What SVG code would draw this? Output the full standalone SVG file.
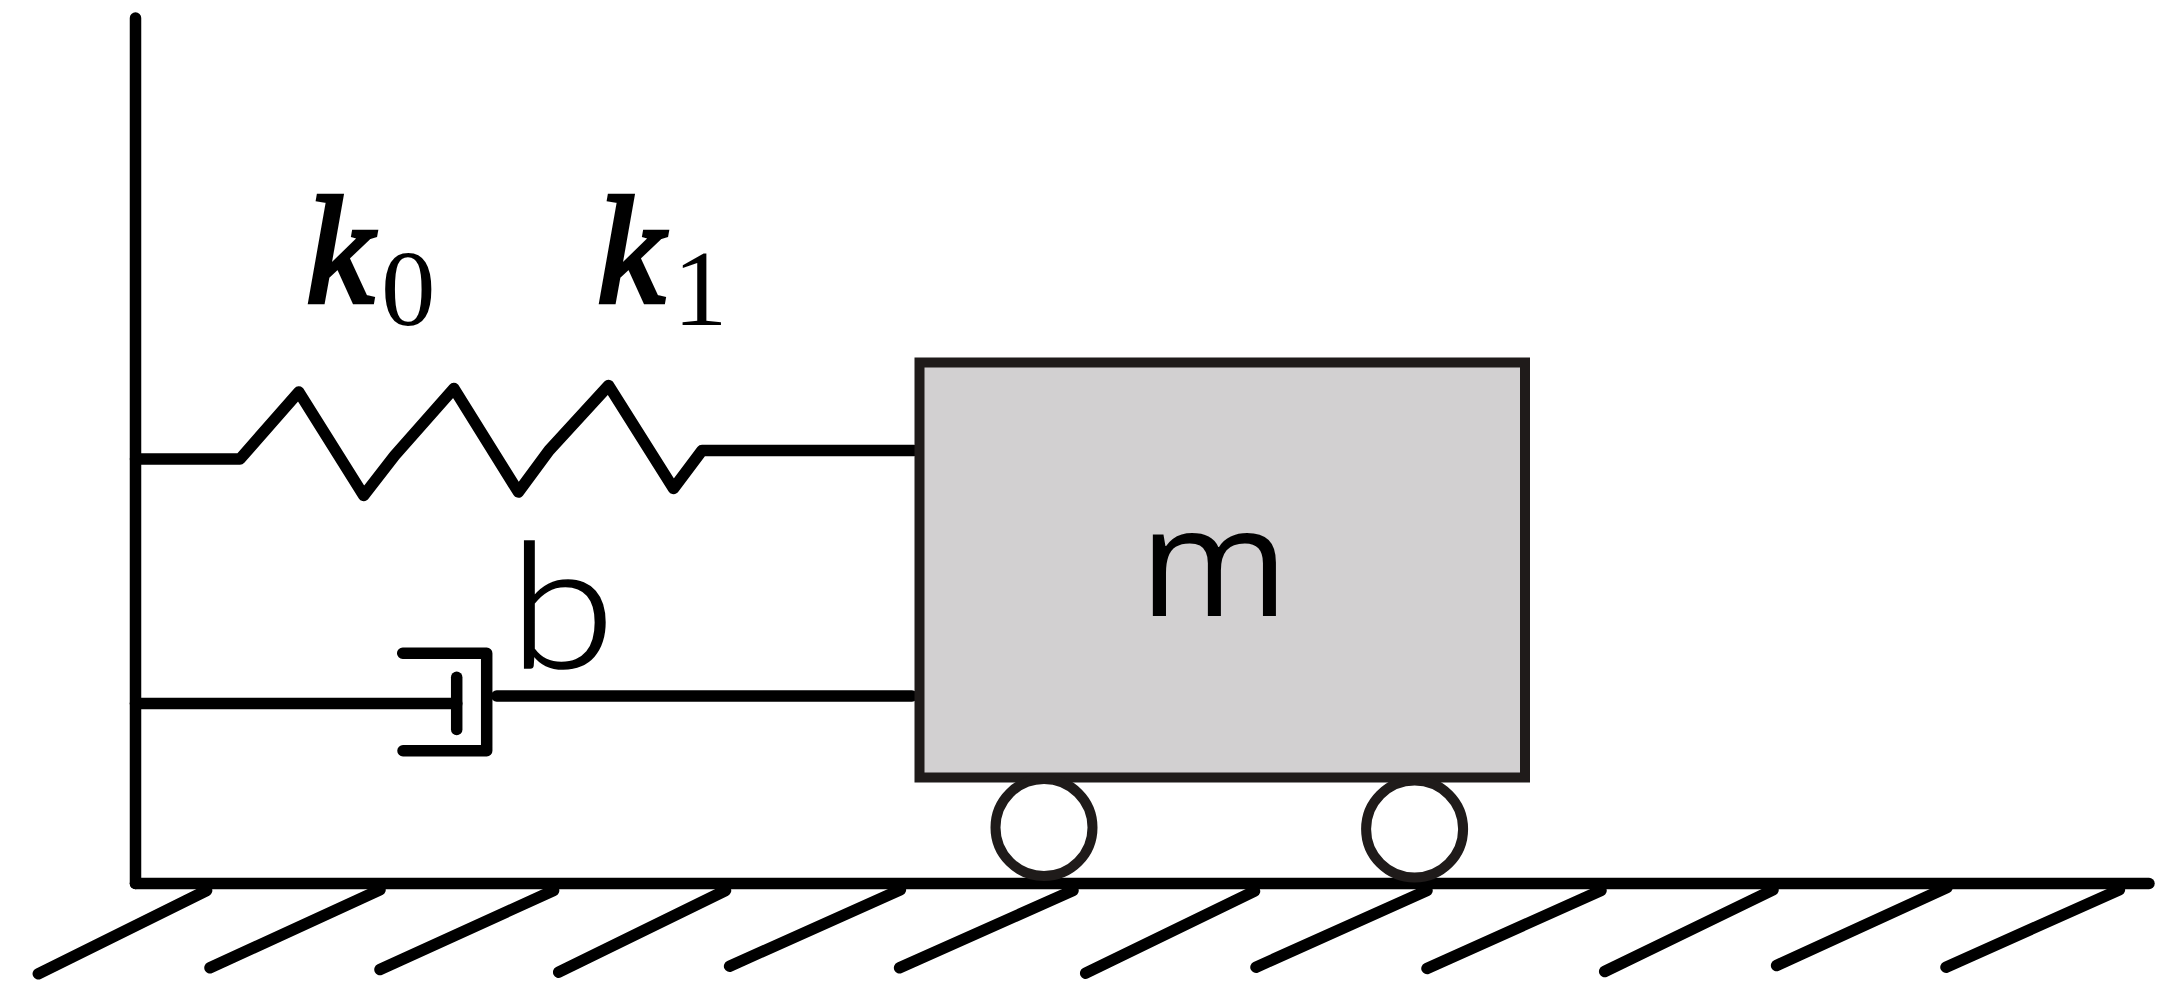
<svg xmlns="http://www.w3.org/2000/svg" width="2173" height="1000" viewBox="0 0 2173 1000">
<style>
.ln{fill:none;stroke:#000;stroke-width:11.5;stroke-linecap:round;stroke-linejoin:round}
.k{font-family:"Liberation Serif",serif;font-style:italic;font-weight:400;font-size:152px;fill:#000;stroke:#000;stroke-width:4.5}
.s{font-family:"Liberation Serif",serif;font-style:normal;font-weight:400;font-size:109px;stroke:none}
.m{font-family:"Open Sans",sans-serif;font-weight:400;fill:#000}
.b{font-family:"Lato",sans-serif;font-weight:300;fill:#000;stroke:#000;stroke-width:1.5}
</style>
<rect width="2173" height="1000" fill="#fff"/>
<g id="connectors">
<path id="spring" class="ln" d="M135.5 459H240L298.8 392L363.7 495.5L394.7 455.5L453.9 388.5L518.4 492L549 450.5L608.6 385.5L673.5 488.5L702 450.5H914"/>
<path id="damper-rod-left" class="ln" d="M135.5 703.5H456.7"/>
<path id="damper-rod-right" class="ln" d="M496.7 696H912"/>
</g>
<g id="wall"><path class="ln" d="M135.5 18V883.5"/></g>
<g id="ground">
<path class="ln" d="M135.5 883.5H2149"/>
<path class="ln" d="M38.3 973.8L206.6 890.5M210 967.8L380 889.8M380 969.5L553.6 890.5M558.7 972.2L725.5 890.5M729.6 966.2L900.4 889.8M899.6 967.8L1073 890.5M1085.7 973.2L1254.5 891.2M1256 967.2L1427 890.5M1427 968.5L1601 890.5M1604.7 971.5L1773 889.8M1776.6 965.5L1947 887.5M1946 967.2L2119.4 889.8"/>
</g>
<g id="damper">
<path class="ln" d="M456.7 677.2V729.5"/>
<path class="ln" d="M402.7 653.2H486.7V750.8H403"/>
</g>
<g id="mass">
<rect x="919.5" y="362.5" width="605.5" height="415" fill="#d2d0d1" stroke="#1f1b1a" stroke-width="10"/>
<text class="m" x="1139" y="616" font-size="152" textLength="150" lengthAdjust="spacingAndGlyphs">m</text>
</g>
<g id="wheel-1"><circle cx="1044" cy="827.5" r="48.5" fill="#fff" stroke="#1f1b1a" stroke-width="10"/></g>
<g id="wheel-2"><circle cx="1414.6" cy="829" r="48.5" fill="#fff" stroke="#1f1b1a" stroke-width="10"/></g>
<g id="label-k0"><text class="k" x="306" y="302">k<tspan class="s" x="381" y="325">0</tspan></text></g>
<g id="label-k1"><text class="k" x="597" y="302">k<tspan class="s" x="673" y="325">1</tspan></text></g>
<g id="label-b"><text class="b" x="509" y="668" font-size="174" textLength="106" lengthAdjust="spacingAndGlyphs">b</text></g>
</svg>
